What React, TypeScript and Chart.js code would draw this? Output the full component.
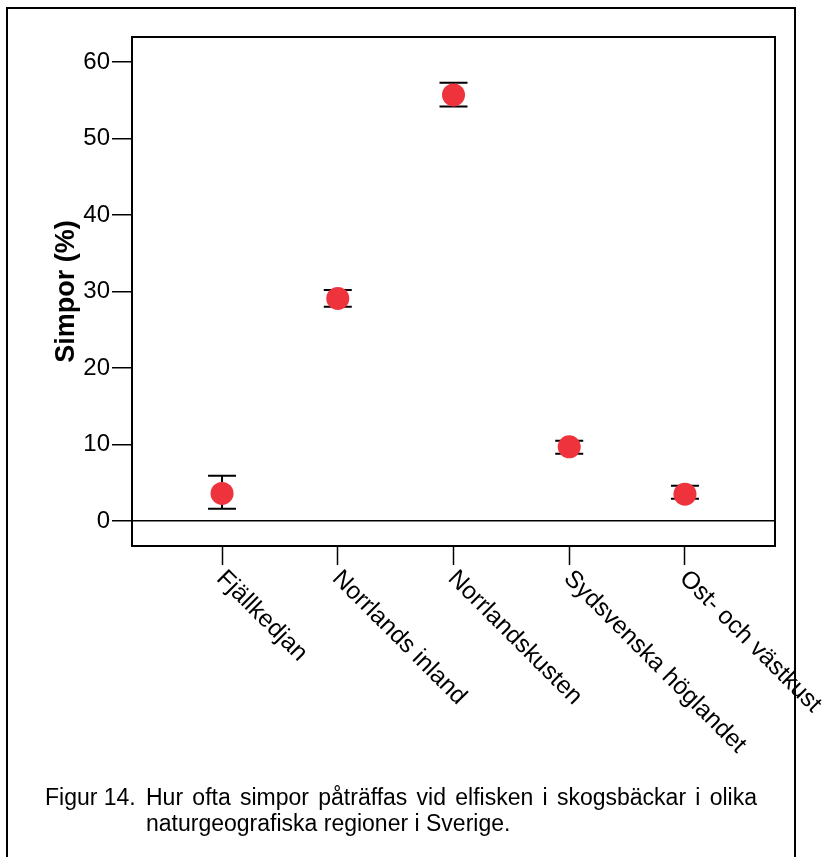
import React, { useEffect, useRef } from "react";
import { Chart, registerables } from "chart.js";

Chart.register(...registerables);

const categories = [
  "Fjällkedjan",
  "Norrlands inland",
  "Norrlandskusten",
  "Sydsvenska höglandet",
  "Ost- och västkust",
];
const means = [3.6, 29.1, 55.7, 9.7, 3.5];
const upper = [5.9, 30.2, 57.3, 10.5, 4.6];
const lower = [1.6, 28.0, 54.2, 8.8, 2.9];
const yTicks = [0, 10, 20, 30, 40, 50, 60];
const captionLabel = "Figur 14.";
const captionLines = [
  "Hur ofta simpor påträffas vid elfisken i skogsbäckar i olika",
  "naturgeografiska regioner i Sverige.",
];

const FONT = "'Liberation Sans', Arial, Helvetica, sans-serif";
const RED = "#EF333D";

function drawJustified(ctx: CanvasRenderingContext2D, text: string, x0: number, x1: number, y: number) {
  const words = text.split(" ");
  const total = words.reduce((s, w) => s + ctx.measureText(w).width, 0);
  const gap = (x1 - x0 - total) / (words.length - 1);
  let x = x0;
  for (const w of words) {
    ctx.fillText(w, x, y);
    x += ctx.measureText(w).width + gap;
  }
}

export default function App() {
  const ref = useRef<HTMLCanvasElement | null>(null);

  useEffect(() => {
    document.body.style.margin = "0";
    const canvas = ref.current;
    if (!canvas) return;

    const overlay = {
      id: "overlay",
      beforeDatasetsDraw(chart: any) {
        const ctx = chart.ctx;
        const xs = chart.scales.x;
        const ys = chart.scales.y;
        ctx.save();
        ctx.strokeStyle = "#000";
        ctx.lineWidth = 2;
        for (let i = 0; i < categories.length; i++) {
          const x = xs.getPixelForValue(i);
          const yt = ys.getPixelForValue(upper[i]);
          const yb = ys.getPixelForValue(lower[i]);
          ctx.beginPath();
          ctx.moveTo(x, yt);
          ctx.lineTo(x, yb);
          ctx.moveTo(x - 14, yt);
          ctx.lineTo(x + 14, yt);
          ctx.moveTo(x - 14, yb);
          ctx.lineTo(x + 14, yb);
          ctx.stroke();
        }
        ctx.restore();
      },
      afterDraw(chart: any) {
        const ctx = chart.ctx;
        const a = chart.chartArea;
        const xs = chart.scales.x;
        ctx.save();
        ctx.strokeStyle = "#000";
        ctx.lineWidth = 2;
        ctx.strokeRect(a.left, a.top, a.right - a.left, a.bottom - a.top);
        ctx.strokeRect(7, 8, 788, 900);
        // rotated category labels
        ctx.fillStyle = "#000";
        ctx.font = `24.5px ${FONT}`;
        ctx.textAlign = "left";
        ctx.textBaseline = "top";
        for (let i = 0; i < categories.length; i++) {
          const x = xs.getPixelForValue(i);
          ctx.save();
          ctx.translate(x + 7, a.bottom + 20);
          ctx.rotate(Math.PI / 4);
          ctx.fillText(categories[i], 0, 0);
          ctx.restore();
        }
        // caption
        ctx.font = `23px ${FONT}`;
        ctx.textBaseline = "alphabetic";
        ctx.fillText(captionLabel, 45, 805);
        drawJustified(ctx, captionLines[0], 146, 757, 805);
        ctx.fillText(captionLines[1], 146, 831);
        ctx.restore();
      },
    };

    const chart = new Chart(canvas, {
      type: "scatter",
      data: {
        datasets: [
          {
            data: means.map((m, i) => ({ x: i, y: m })),
            pointRadius: 11.5,
            pointHoverRadius: 11.5,
            backgroundColor: RED,
            borderWidth: 0,
          },
        ],
      },
      options: {
        responsive: false,
        animation: false,
        devicePixelRatio: 1,
        layout: { padding: { left: 0, top: 37, right: 54, bottom: 292 } },
        plugins: { legend: { display: false }, tooltip: { enabled: false } },
        scales: {
          x: {
            type: "linear",
            min: -0.778,
            max: 4.778,
            afterBuildTicks: (s: any) => {
              s.ticks = categories.map((_, i) => ({ value: i }));
            },
            afterFit: (s: any) => {
              s.height = 19;
            },
            ticks: { display: false },
            grid: {
              drawOnChartArea: false,
              drawTicks: true,
              tickLength: 19,
              tickColor: "#000",
              tickWidth: 1.5,
            },
            border: { display: true, color: "#000", width: 2 },
          },
          y: {
            type: "linear",
            min: -3.27,
            max: 63.27,
            afterBuildTicks: (s: any) => {
              s.ticks = yTicks.map((v) => ({ value: v }));
            },
            afterFit: (s: any) => {
              s.width = 132;
            },
            ticks: {
              color: "#000",
              padding: 2,
              font: { family: FONT, size: 24 },
            },
            grid: {
              drawOnChartArea: true,
              drawTicks: true,
              tickLength: 20,
              tickColor: "#000",
              tickWidth: 1.5,
              lineWidth: 1.5,
              color: (c: any) => (c.tick && c.tick.value === 0 ? "#000" : "rgba(0,0,0,0)"),
            },
            border: { display: true, color: "#000", width: 2 },
            title: {
              display: true,
              text: "Simpor (%)",
              color: "#000",
              font: { family: FONT, size: 27, weight: "bold" },
              padding: { top: 50, bottom: 0 },
            },
          },
        },
      },
      plugins: [overlay],
    });

    return () => chart.destroy();
  }, []);

  return (
    <div style={{ width: 829, height: 857, background: "#fff" }}>
      <canvas ref={ref} width={829} height={857} style={{ display: "block", width: 829, height: 857 }} />
    </div>
  );
}
